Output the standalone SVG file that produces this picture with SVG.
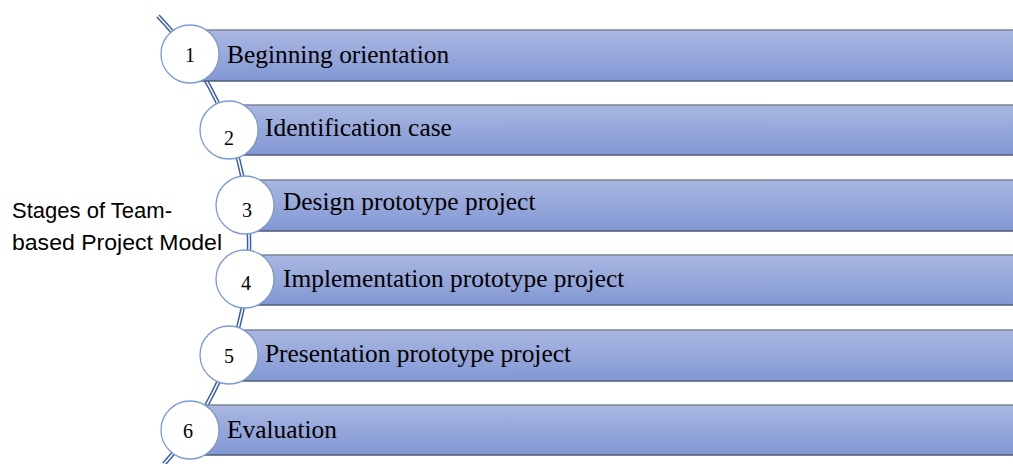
<svg xmlns="http://www.w3.org/2000/svg" width="1013" height="464" viewBox="0 0 1013 464">
  <defs>
    <linearGradient id="barFill" x1="0" y1="0" x2="0" y2="1">
      <stop offset="0" stop-color="#a9b7e1"/>
      <stop offset="1" stop-color="#8298d4"/>
    </linearGradient>
  </defs>
  <style>
    .bar rect { fill: url(#barFill); }
    .bar .edgeTop { stroke: #7b8496; stroke-width: 1.5; }
    .bar .edgeBot { stroke: #4f5b74; stroke-width: 1.5; }
    .bar text { font-family: "Liberation Serif", "Times New Roman", serif; font-size: 25.4px; fill: #000; }
    .badge circle { fill: #fff; stroke: #7b9ad6; stroke-width: 1.3; }
    .badge text { font-family: "Liberation Serif", "Times New Roman", serif; font-size: 20px; fill: #000; text-anchor: middle; }
    .spine-outer { fill: none; stroke: #3a5ea3; stroke-width: 4.5; }
    .spine-inner { fill: none; stroke: #ffffff; stroke-width: 1.5; }
    .title { font-family: "Liberation Sans", Arial, sans-serif; font-size: 22px; fill: #000; }
  </style>

  <rect width="1013" height="464" fill="#fff"/>

  <!-- curved spine linking the stages -->
  <g id="connectors">
    <path class="spine-outer" d="M 158 16 A 329 329 0 0 1 164 464"/>
    <path class="spine-inner" d="M 158 16 A 329 329 0 0 1 164 464"/>
  </g>

  <!-- stage bars -->
  <g id="stage1" class="bar">
    <rect x="200" y="30" width="813" height="51"/>
    <line class="edgeTop" x1="200" y1="30" x2="1013" y2="30"/>
    <line class="edgeBot" x1="200" y1="81" x2="1013" y2="81"/>
    <text x="227" y="63">Beginning orientation</text>
  </g>
  <g id="stage2" class="bar">
    <rect x="240" y="105" width="773" height="50"/>
    <line class="edgeTop" x1="240" y1="105" x2="1013" y2="105"/>
    <line class="edgeBot" x1="240" y1="155" x2="1013" y2="155"/>
    <text x="265" y="136">Identification case</text>
  </g>
  <g id="stage3" class="bar">
    <rect x="258" y="180" width="755" height="51"/>
    <line class="edgeTop" x1="258" y1="180" x2="1013" y2="180"/>
    <line class="edgeBot" x1="258" y1="231" x2="1013" y2="231"/>
    <text x="283" y="210">Design prototype project</text>
  </g>
  <g id="stage4" class="bar">
    <rect x="258" y="255" width="755" height="50"/>
    <line class="edgeTop" x1="258" y1="255" x2="1013" y2="255"/>
    <line class="edgeBot" x1="258" y1="305" x2="1013" y2="305"/>
    <text x="283" y="287">Implementation prototype project</text>
  </g>
  <g id="stage5" class="bar">
    <rect x="240" y="330" width="773" height="51"/>
    <line class="edgeTop" x1="240" y1="330" x2="1013" y2="330"/>
    <line class="edgeBot" x1="240" y1="381" x2="1013" y2="381"/>
    <text x="265" y="362">Presentation prototype project</text>
  </g>
  <g id="stage6" class="bar">
    <rect x="200" y="405" width="813" height="50"/>
    <line class="edgeTop" x1="200" y1="405" x2="1013" y2="405"/>
    <line class="edgeBot" x1="200" y1="455" x2="1013" y2="455"/>
    <text x="227" y="438">Evaluation</text>
  </g>

  <!-- numbered badges -->
  <g id="badge1" class="badge">
    <circle cx="190" cy="54" r="29"/>
    <text x="190" y="62">1</text>
  </g>
  <g id="badge2" class="badge">
    <circle cx="229" cy="130" r="29"/>
    <text x="229" y="145">2</text>
  </g>
  <g id="badge3" class="badge">
    <circle cx="245" cy="205" r="29"/>
    <text x="247" y="217">3</text>
  </g>
  <g id="badge4" class="badge">
    <circle cx="245" cy="279" r="29"/>
    <text x="246" y="290">4</text>
  </g>
  <g id="badge5" class="badge">
    <circle cx="229" cy="355" r="29"/>
    <text x="229" y="363">5</text>
  </g>
  <g id="badge6" class="badge">
    <circle cx="190" cy="430" r="29"/>
    <text x="188" y="438">6</text>
  </g>

  <!-- side title -->
  <g id="title">
    <text class="title" x="12" y="218" textLength="160" lengthAdjust="spacingAndGlyphs">Stages of Team-</text>
    <text class="title" x="12" y="250" textLength="210" lengthAdjust="spacingAndGlyphs">based Project Model</text>
  </g>
</svg>
